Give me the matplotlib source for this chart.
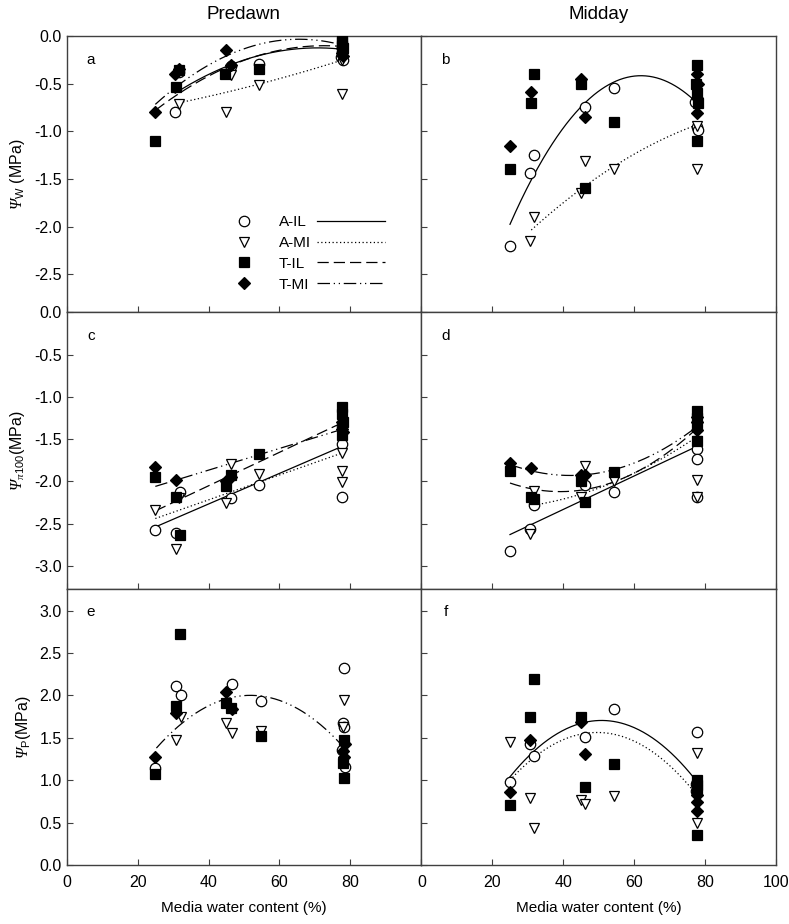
import numpy as np
import matplotlib
matplotlib.use('Agg')
import matplotlib.pyplot as plt
from matplotlib.lines import Line2D

plt.rcParams['font.family'] = ['Liberation Sans', 'DejaVu Sans']
# capital Greek is always taken from the "rm" math font, so make that an italic serif
plt.rcParams['mathtext.fontset'] = 'custom'
plt.rcParams['mathtext.rm'] = 'Liberation Serif:italic'
plt.rcParams['mathtext.it'] = 'Liberation Serif:italic'
plt.rcParams['mathtext.sf'] = 'Liberation Sans'

groups = ['A-IL', 'A-MI', 'T-IL', 'T-MI']

# ---- panel a : predawn water potential ----
a_AIL_x = [30.6, 31.8, 46.3, 54.3, 77.3, 77.7, 78.0]
a_AIL_y = [-0.80, -0.38, -0.31, -0.29, -0.22, -0.17, -0.25]
a_AMI_x = [31.8, 44.9, 46.3, 54.3, 77.7, 77.7]
a_AMI_y = [-0.71, -0.80, -0.41, -0.51, -0.25, -0.61]
a_TIL_x = [25.0, 30.8, 31.8, 44.7, 54.3, 77.5, 77.7, 77.7, 78.0]
a_TIL_y = [-1.10, -0.54, -0.36, -0.40, -0.35, -0.03, -0.06, -0.10, -0.13]
a_TMI_x = [25.0, 30.6, 31.8, 44.9, 46.3, 77.5, 77.7, 78.0]
a_TMI_y = [-0.80, -0.40, -0.35, -0.15, -0.30, -0.13, -0.18, -0.21]

# ---- panel b : midday water potential ----
b_AIL_x = [25.0, 30.6, 31.9, 46.2, 54.3, 77.3, 77.8, 78.0]
b_AIL_y = [-2.20, -1.44, -1.25, -0.75, -0.55, -0.69, -0.95, -0.99]
b_AMI_x = [30.6, 31.9, 44.9, 46.2, 54.3, 77.5, 77.8, 77.8]
b_AMI_y = [-2.15, -1.90, -1.65, -1.31, -1.40, -0.56, -0.94, -1.40]
b_TIL_x = [25.0, 30.8, 31.9, 44.9, 46.2, 54.3, 77.5, 77.8, 77.8, 78.0, 77.8]
b_TIL_y = [-1.40, -0.70, -0.40, -0.50, -1.60, -0.90, -0.50, -0.30, -0.60, -0.70, -1.10]
b_TMI_x = [25.0, 30.8, 44.9, 46.2, 77.8, 78.0, 77.8, 77.8]
b_TMI_y = [-1.15, -0.59, -0.45, -0.85, -0.40, -0.50, -0.65, -0.81]

# ---- panel c : predawn osmotic potential at full turgor ----
c_AIL_x = [25.0, 30.8, 32.0, 46.3, 54.3, 77.7, 77.7, 77.7]
c_AIL_y = [-2.58, -2.61, -2.13, -2.20, -2.04, -1.35, -1.56, -2.19]
c_AMI_x = [25.0, 30.8, 31.8, 44.8, 46.3, 54.3, 77.7, 77.7, 77.7]
c_AMI_y = [-2.34, -2.80, -2.20, -2.26, -1.79, -1.91, -1.66, -1.88, -2.01]
c_TIL_x = [25.0, 30.8, 32.0, 44.8, 46.3, 54.3, 77.5, 77.7, 77.9, 77.7]
c_TIL_y = [-1.95, -2.18, -2.63, -2.06, -1.92, -1.68, -1.12, -1.20, -1.30, -1.45]
c_TMI_x = [25.0, 30.8, 44.8, 46.3, 77.7, 77.7, 77.9]
c_TMI_y = [-1.83, -1.99, -2.00, -1.95, -1.30, -1.38, -1.42]

# ---- panel d : midday osmotic potential at full turgor ----
d_AIL_x = [25.0, 30.6, 31.9, 46.2, 54.3, 77.8, 77.8, 77.8]
d_AIL_y = [-2.82, -2.56, -2.28, -2.04, -2.13, -1.62, -1.73, -2.18]
d_AMI_x = [30.6, 31.9, 44.9, 46.2, 54.3, 77.8, 77.8, 77.8]
d_AMI_y = [-2.62, -2.12, -2.18, -1.82, -2.00, -1.52, -1.99, -2.18]
d_TIL_x = [25.0, 30.8, 31.9, 44.9, 46.2, 54.3, 77.8, 77.8, 77.8, 77.8]
d_TIL_y = [-1.88, -2.18, -2.21, -2.00, -2.24, -1.89, -1.17, -1.25, -1.35, -1.52]
d_TMI_x = [25.0, 30.8, 44.9, 46.2, 77.8, 77.8, 77.8]
d_TMI_y = [-1.78, -1.84, -1.93, -1.92, -1.24, -1.30, -1.39]

# ---- panel e : predawn turgor ----
e_AIL_x = [25.0, 30.8, 32.2, 46.5, 54.7, 78.3, 78.0, 78.3, 77.6, 78.5]
e_AIL_y = [1.14, 2.11, 2.00, 2.13, 1.94, 2.32, 1.67, 1.63, 1.36, 1.16]
e_AMI_x = [30.8, 32.2, 45.0, 46.5, 54.7, 78.3, 78.0]
e_AMI_y = [1.48, 1.75, 1.67, 1.56, 1.58, 1.95, 1.63]
e_TIL_x = [25.0, 30.8, 32.0, 45.0, 46.3, 54.7, 78.3, 77.8, 78.3]
e_TIL_y = [1.07, 1.87, 2.72, 1.91, 1.85, 1.52, 1.48, 1.20, 1.03]
e_TMI_x = [25.0, 30.8, 45.0, 46.5, 78.5, 78.3, 78.0]
e_TMI_y = [1.27, 1.79, 2.04, 1.84, 1.43, 1.27, 1.35]

# ---- panel f : midday turgor ----
f_AIL_x = [25.0, 30.6, 31.9, 46.2, 54.3, 77.6, 77.4, 77.4]
f_AIL_y = [0.98, 1.43, 1.28, 1.51, 1.84, 1.57, 0.96, 0.87]
f_AMI_x = [25.0, 30.6, 31.9, 44.9, 46.2, 54.3, 77.6, 77.6]
f_AMI_y = [1.45, 0.79, 0.44, 0.77, 0.72, 0.81, 1.32, 0.50]
f_TIL_x = [25.0, 30.6, 31.9, 44.9, 46.2, 54.3, 77.6, 77.6, 77.6, 77.6]
f_TIL_y = [0.71, 1.75, 2.19, 1.74, 0.92, 1.19, 1.00, 0.94, 0.88, 0.35]
f_TMI_x = [25.0, 30.6, 44.9, 46.2, 77.6, 77.6, 77.6]
f_TMI_y = [0.86, 1.47, 1.69, 1.31, 0.82, 0.74, 0.64]

# regression curves, points (x, y)
fit_a = {'A-IL': ([30.6, 45.0, 78.0], [-0.60, -0.32, -0.14]),
         'A-MI': ([31.8, 54.7, 77.9], [-0.70, -0.50, -0.25]),
         'T-IL': ([25.0, 45.0, 78.0], [-0.78, -0.33, -0.11]),
         'T-MI': ([25.0, 45.0, 68.0, 78.0], [-0.72, -0.20, -0.05, -0.09])}
fit_b = {'A-IL': ([25.0, 30.6, 46.2, 61.8, 76.8], [-2.00, -1.50, -0.72, -0.41, -0.67]),
         'A-MI': ([31.0, 44.9, 54.3, 77.3], [-2.03, -1.63, -1.35, -0.94])}
fit_c = {'A-IL': ([25.0, 78.0], [-2.54, -1.58]),
         'A-MI': ([25.0, 78.0], [-2.44, -1.66]),
         'T-IL': ([25.0, 78.0], [-2.35, -1.30]),
         'T-MI': ([25.0, 78.0], [-2.06, -1.38])}
fit_d = {'A-IL': ([25.0, 77.0], [-2.63, -1.60]),
         'A-MI': ([31.9, 54.3, 77.8], [-2.28, -2.01, -1.47]),
         'T-IL': ([25.0, 41.0, 77.8], [-2.02, -2.12, -1.37]),
         'T-MI': ([25.0, 41.0, 77.8], [-1.80, -1.93, -1.35])}
fit_e = {'T-MI': ([25.3, 31.1, 50.4, 77.2], [1.38, 1.62, 2.00, 1.43])}
fit_f = {'A-IL': ([25.0, 48.6, 77.0], [1.04, 1.70, 1.02]),
         'A-MI': ([25.0, 45.8, 77.0], [1.00, 1.55, 0.86])}

markers = {'A-IL': dict(marker='o', mfc='white', mec='black', ms=7.5, mew=0.9),
           'A-MI': dict(marker='v', mfc='white', mec='black', ms=7.5, mew=0.9),
           'T-IL': dict(marker='s', mfc='black', mec='black', ms=6.5, mew=0.9),
           'T-MI': dict(marker='D', mfc='black', mec='black', ms=6, mew=0.9)}
lines = {'A-IL': '-',
         'A-MI': (0, (1, 2)),
         'T-IL': (0, (9, 4)),
         'T-MI': (0, (10, 3, 1, 3, 1, 3))}

panels = [
    ('a', [(a_AIL_x, a_AIL_y), (a_AMI_x, a_AMI_y), (a_TIL_x, a_TIL_y), (a_TMI_x, a_TMI_y)], fit_a),
    ('b', [(b_AIL_x, b_AIL_y), (b_AMI_x, b_AMI_y), (b_TIL_x, b_TIL_y), (b_TMI_x, b_TMI_y)], fit_b),
    ('c', [(c_AIL_x, c_AIL_y), (c_AMI_x, c_AMI_y), (c_TIL_x, c_TIL_y), (c_TMI_x, c_TMI_y)], fit_c),
    ('d', [(d_AIL_x, d_AIL_y), (d_AMI_x, d_AMI_y), (d_TIL_x, d_TIL_y), (d_TMI_x, d_TMI_y)], fit_d),
    ('e', [(e_AIL_x, e_AIL_y), (e_AMI_x, e_AMI_y), (e_TIL_x, e_TIL_y), (e_TMI_x, e_TMI_y)], fit_e),
    ('f', [(f_AIL_x, f_AIL_y), (f_AMI_x, f_AMI_y), (f_TIL_x, f_TIL_y), (f_TMI_x, f_TMI_y)], fit_f),
]

row_ylims = [(-2.9, 0.0), (-3.27, 0.0), (0.0, 3.26)]
row_yticks = [np.arange(0, -2.6, -0.5), np.arange(0, -3.1, -0.5), np.arange(0, 3.1, 0.5)]
row_ylabels = [r'$\Psi_{\mathsf{W}}$ (MPa)',
               r'$\Psi_{\pi\mathsf{100}}$(MPa)',
               r'$\Psi_{\mathsf{P}}$(MPa)']

fig = plt.figure(figsize=(7.89, 9.24), dpi=100)
gs = fig.add_gridspec(3, 2, left=0.0845, right=0.9835, top=0.961, bottom=0.0639,
                      hspace=0, wspace=0)
spine_col = '#404040'

for i, (letter, series, fits) in enumerate(panels):
    row, col = divmod(i, 2)
    ax = fig.add_subplot(gs[row, col])

    # fitted curves
    for g in groups:
        if g not in fits:
            continue
        fx, fy = fits[g]
        deg = min(2, len(fx) - 1)
        coef = np.polyfit(fx, fy, deg)
        xs = np.linspace(min(fx), max(fx), 200)
        ax.plot(xs, np.polyval(coef, xs), color='black', lw=0.9, ls=lines[g], zorder=2)

    # data points
    for g, (x, y) in zip(groups, series):
        ax.plot(x, y, ls='none', zorder=3, **markers[g])

    ax.set_xlim(0, 100)
    ax.set_ylim(*row_ylims[row])
    ax.set_xticks(np.arange(0, 101, 20))
    ax.set_yticks(row_yticks[row])
    ax.tick_params(direction='in', length=4, width=0.8, color=spine_col,
                   labelsize=11.5, top=False, right=False)
    ax.tick_params(axis='x', pad=7)
    for s in ax.spines.values():
        s.set_color(spine_col)
        s.set_linewidth(1.0)

    if col == 0:
        ax.set_yticklabels(['%.1f' % v for v in row_yticks[row]])
        ax.set_ylabel(row_ylabels[row], fontsize=11.5, labelpad=5)
    else:
        ax.set_yticklabels([])

    if row == 2:
        if col == 0:
            ax.set_xticklabels(['0', '20', '40', '60', '80', ''])
        ax.set_xlabel('Media water content (%)', fontsize=11, labelpad=8)
    else:
        ax.set_xticklabels([])

    if row == 0:
        ax.set_title('Predawn' if col == 0 else 'Midday', fontsize=13.5, pad=12)

    ax.text(0.068, 0.915, letter, transform=ax.transAxes, fontsize=11,
            ha='center', va='center')

    if letter == 'a':
        mk_handles = [Line2D([], [], ls='none', **markers[g]) for g in groups]
        ln_handles = [Line2D([], [], color='black', lw=0.9, ls=lines[g]) for g in groups]
        ax.legend(mk_handles + ln_handles, groups + [''] * 4, ncol=2,
                  loc='upper left', bbox_to_anchor=(0.405, 0.352), frameon=False,
                  fontsize=11, handlelength=4.4, handletextpad=0.1,
                  columnspacing=0.4, labelspacing=0.45, borderpad=0, borderaxespad=0)

fig.savefig('out.png', dpi=100)
